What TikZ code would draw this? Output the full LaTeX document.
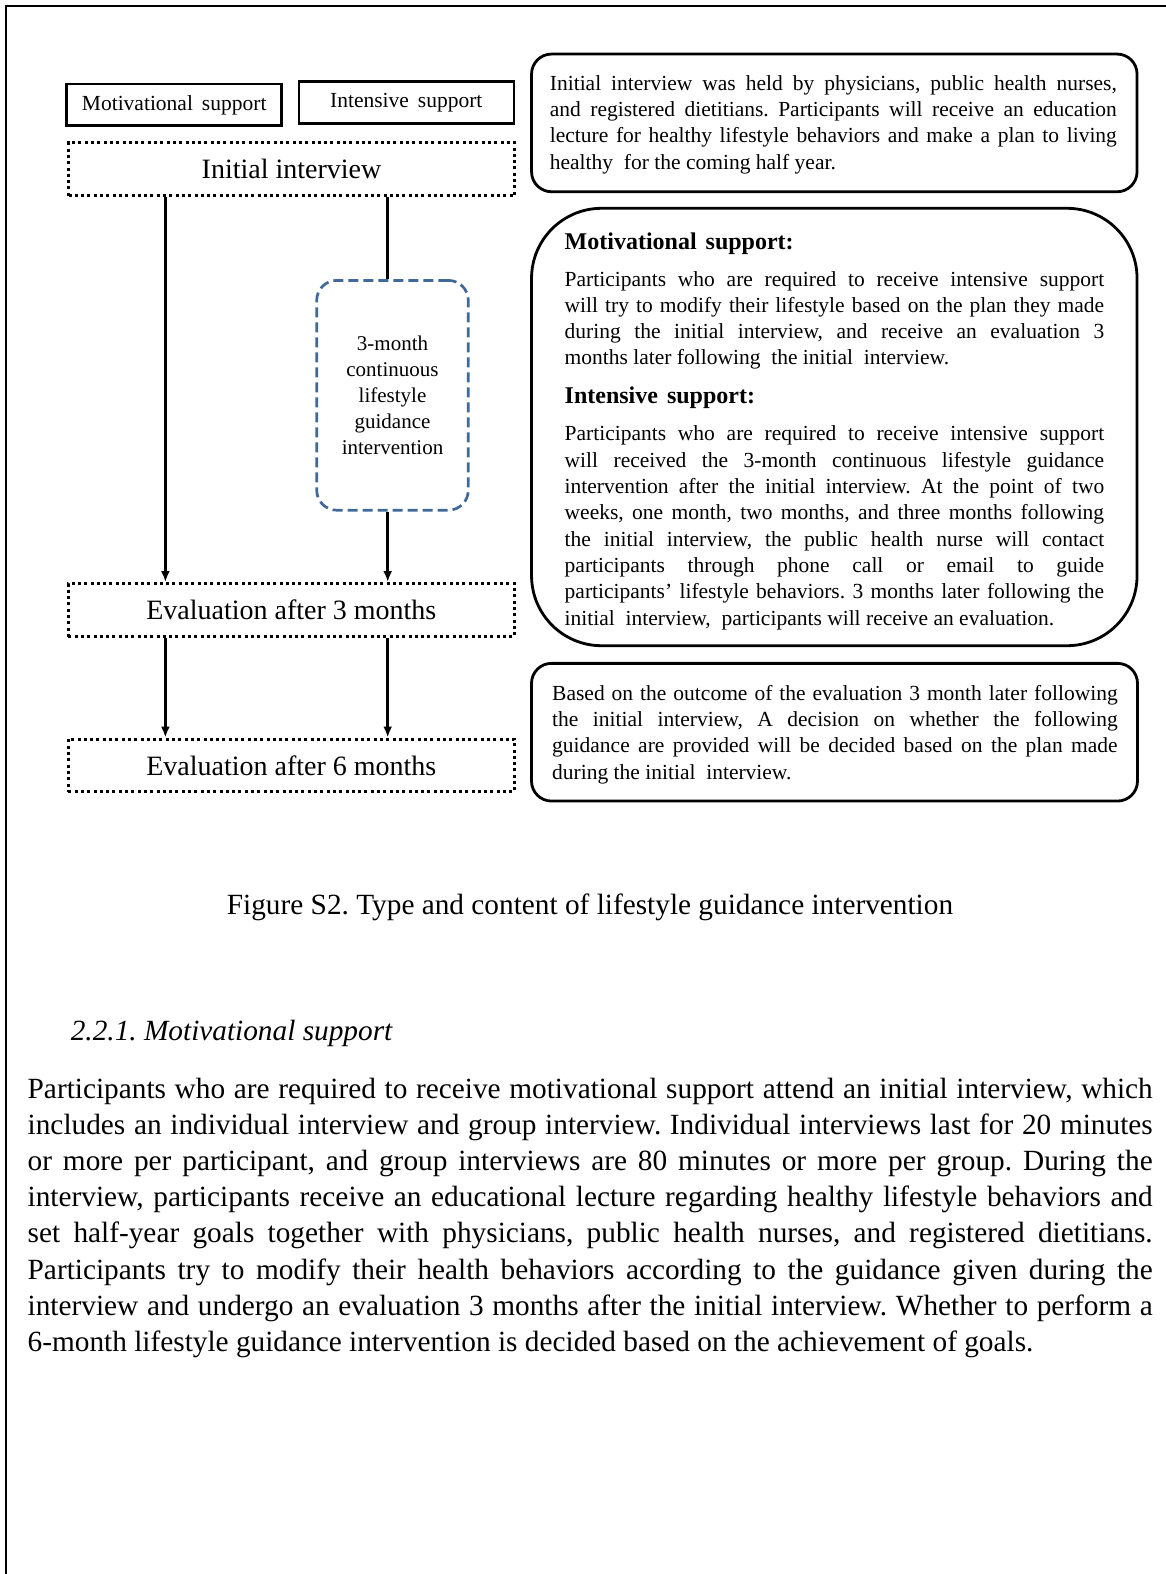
\documentclass[tikz,border=0pt]{standalone}
\usepackage{fontspec}
\setmainfont{Liberation Serif}
\usetikzlibrary{arrows.meta}
\definecolor{dashblue}{RGB}{64,104,152}
\newcommand{\jline}[2]{\makebox[#1][s]{#2}}
\frenchspacing
\begin{document}
\begin{tikzpicture}[x=1pt,y=-1pt,line cap=butt,line join=miter,>={Latex[length=11pt,width=9pt]},
	lbl/.style={draw,line width=2.6,inner sep=0,minimum width=215,minimum height=41.6,font=\fontsize{21.5}{26}\selectfont},
	dotbox/.style={draw,line width=3,dash pattern=on 3pt off 3.3pt,inner sep=0,minimum width=446,minimum height=53,font=\fontsize{28}{34}\selectfont},
	bluebox/.style={draw=dashblue,line width=2.7,dash pattern=on 10pt off 5pt,rounded corners=20,inner sep=0,minimum width=151.6,minimum height=229.8,align=center,font=\fontsize{21}{26}\selectfont},
	infobox/.style={draw,line width=2.8,rounded corners=20,inner sep=0,minimum width=605.5,minimum height=137.7},
	txt/.style={inner sep=0,anchor=base west,font=\fontsize{21.5}{26}\selectfont},
	head/.style={inner sep=0,anchor=base west,font=\bfseries\fontsize{24}{28}\selectfont},
	body/.style={inner sep=0,anchor=base west,font=\fontsize{29.3}{36}\selectfont},
	arr/.style={->,line width=2.8}]
		\useasboundingbox (0,0) rectangle (1166,1574);
		\draw[line width=2] (1166,6)--(6,6)--(6,1574);
		% left: flow of the two supports
		\node (mot) at (174.2,104.9)[lbl]{Motivational\hspace{9pt}support};
		\node (ints) at (406.3,102.5)[lbl]{Intensive\hspace{9pt}support};
		\node (ini) at (291.5,169.3)[dotbox,minimum height=53.3]{Initial interview};
		\node (cont) at (392.5,395.3)[bluebox]{3-month\\continuous\\lifestyle\\guidance\\intervention};
		\node (ev3) at (291.3,610)[dotbox]{Evaluation after 3 months};
		\node (ev6) at (291.3,765.3)[dotbox,minimum height=52.6]{Evaluation after 6 months};
		\coordinate (lx) at (165.4,0);
		\coordinate (rx) at (387.7,0);
		\draw[line width=2.8] (ini.south -| rx)--(cont.north -| rx);
		\draw[arr] (ini.south -| lx)--(ev3.north -| lx);
		\draw[arr] (cont.south -| rx)--(ev3.north -| rx);
		\draw[arr] (ev3.south -| lx)--(ev6.north -| lx);
		\draw[arr] (ev3.south -| rx)--(ev6.north -| rx);
		% right: explanation boxes
		\node (info1) at (834.3,122.9)[infobox]{};
		\node (info2) at (834.3,427)[infobox,rounded corners=70,minimum height=437.4]{};
		\node (info3) at (834.5,732.2)[infobox,minimum width=606]{};
		\foreach \t [count=\i from 0] in {{Initial interview was held by physicians, public health nurses,},
			{and registered dietitians. Participants will receive an education},
			{lecture for healthy lifestyle behaviors and make a plan to living},
			{healthy \ for the coming half year.\hfill}}
			\node (a\i) at (549.7,{90+26.4*\i})[txt]{\jline{567pt}{\t}};
		\node (mh) at (564.5,249)[head]{Motivational\hspace{9pt}support:};
		\foreach \t [count=\i from 0] in {{Participants who are required to receive intensive support},
			{will try to modify their lifestyle based on the plan they made},
			{during the initial interview, and receive an evaluation 3},
			{months later following \ the initial \ interview.\hfill}}
			\node (m\i) at (564.5,{286.7+26*\i})[txt]{\jline{539.5pt}{\t}};
		\node (ih) at (564.5,403.3)[head]{Intensive\hspace{9pt}support:};
		\foreach \t [count=\i from 0] in {{Participants who are required to receive intensive support},
			{will received the 3-month continuous lifestyle guidance},
			{intervention after the initial interview. At the point of two},
			{weeks, one month, two months, and three months following},
			{the initial interview, the public health nurse will contact},
			{participants through phone call or email to guide},
			{participants’ lifestyle behaviors. 3 months later following the},
			{initial \ interview, \ participants will receive an evaluation.\hfill}}
			\node (s\i) at (564.5,{440.7+26.33*\i})[txt]{\jline{539.5pt}{\t}};
		\foreach \t [count=\i from 0] in {{Based on the outcome of the evaluation 3 month later following},
			{the initial interview, A decision on whether the following},
			{guidance are provided will be decided based on the plan made},
			{during the initial \ interview.\hfill}}
			\node (d\i) at (552,{700+26.33*\i})[txt]{\jline{565.5pt}{\t}};
		% caption and text below
		\node (cap) at (590,914)[body,anchor=base]{Figure S2. Type and content of lifestyle guidance intervention};
		\node (sec) at (70.6,1040)[body]{\itshape 2.2.1. Motivational support};
		\foreach \t [count=\i from 0] in {{Participants who are required to receive motivational support attend an initial interview, which},
			{includes an individual interview and group interview. Individual interviews last for 20 minutes},
			{or more per participant, and group interviews are 80 minutes or more per group. During the},
			{interview, participants receive an educational lecture regarding healthy lifestyle behaviors and},
			{set half-year goals together with physicians, public health nurses, and registered dietitians.},
			{Participants try to modify their health behaviors according to the guidance given during the},
			{interview and undergo an evaluation 3 months after the initial interview. Whether to perform a},
			{6-month lifestyle guidance intervention is decided based on the achievement of goals.\hfill}}
			\node (p\i) at (27.5,{1098+36.2*\i})[body]{\jline{1125pt}{\t}};
\end{tikzpicture}
\end{document}
